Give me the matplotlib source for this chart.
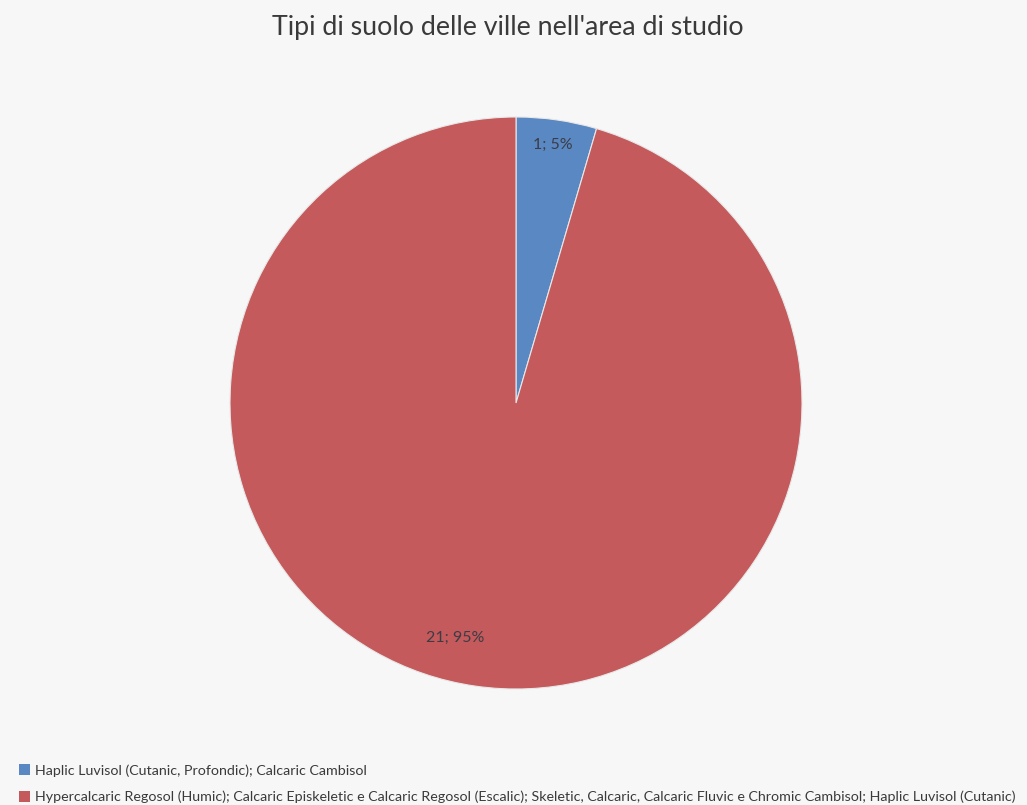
import numpy as np
import matplotlib
matplotlib.use("Agg")
import matplotlib.pyplot as plt
from matplotlib.patches import Patch

title = "Tipi di suolo delle ville nell'area di studio"
categories = [
    "Haplic Luvisol (Cutanic, Profondic); Calcaric Cambisol",
    "Hypercalcaric Regosol (Humic); Calcaric Episkeletic e Calcaric Regosol (Escalic); "
    "Skeletic, Calcaric, Calcaric Fluvic e Chromic Cambisol; Haplic Luvisol (Cutanic)",
]
counts = [1, 21]
colors = ["#5a88c2", "#c45a5c"]

plt.rcParams["font.family"] = ["Lato", "DejaVu Sans"]

W, H = 1027, 805
fig = plt.figure(figsize=(W / 100, H / 100), dpi=100)
fig.patch.set_facecolor("#f7f7f7")

cx, cy, r = 516, 403, 286
ax = fig.add_axes([(cx - r) / W, (H - cy - r) / H, 2 * r / W, 2 * r / H])
ax.set_facecolor("none")

total = sum(counts)
wedges, _ = ax.pie(counts, colors=colors, startangle=90, counterclock=False,
                   radius=1.0, wedgeprops=dict(edgecolor="#e8e8e8", linewidth=0.8))
ax.set_xlim(-1, 1)
ax.set_ylim(-1, 1)
ax.axis("off")

# data labels "count; percent" inside each slice
label_place = [(None, 0.91), (-104.5, 0.85)]
for w, n, (ang_override, rad) in zip(wedges, counts, label_place):
    ang = (w.theta1 + w.theta2) / 2 if ang_override is None else ang_override
    x, y = rad * np.cos(np.radians(ang)), rad * np.sin(np.radians(ang))
    ax.text(x, y, f"{n}; {round(100 * n / total)}%", ha="center", va="center",
            fontsize=11.5, color="#3c3c46")

fig.text(508 / W, 1 - 27 / H, title, ha="center", va="center",
         fontsize=19.3, color="#3a3a3a")

handles = [Patch(facecolor=c, edgecolor="none") for c in colors]
leg = fig.legend(handles, categories, loc="lower left", bbox_to_anchor=(0.006, -0.014),
                 frameon=False, fontsize=10.25, handlelength=0.75, handleheight=0.75,
                 handletextpad=0.35, labelspacing=1.0, labelcolor="#3a3a3a")

fig.savefig("out.png", dpi=100, facecolor=fig.get_facecolor())
